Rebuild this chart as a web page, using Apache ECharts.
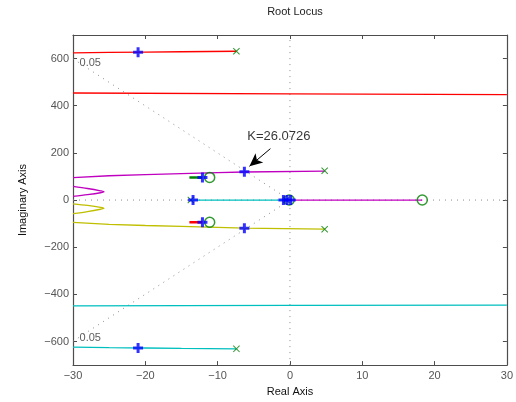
<!DOCTYPE html>
<html><head><meta charset="utf-8">
<script src="https://cdn.jsdelivr.net/npm/echarts@6/dist/echarts.min.js"></script>
<style>html,body{margin:0;padding:0;background:#fff}#c{width:516px;height:402px}</style>
</head><body><div id="c"></div>
<script>
// ---- data ----
const xTicks = [-30, -20, -10, 0, 10, 20, 30];
const yTicks = [-600, -400, -200, 0, 200, 400, 600];
const redTop = [[-30, 624], [-25, 626], [-20, 627.5], [-15, 629], [-7.4, 631]];
const redAsym = [[-30, 454], [0, 450], [30, 447]];
const magentaUpper = [[-30, 95], [-25, 103], [-20, 108], [-15, 112], [-10, 116], [-6.3, 119], [4.8, 123]];
const magentaWave = [[-30, 58], [-28, 49], [-26.2, 39], [-25.7, 35], [-26.2, 31], [-28, 23], [-30, 16]];
const magentaReal = [[-0.2, 0], [18.3, 0]];
const yellowLower = [[-30, -95], [-25, -103], [-20, -108], [-15, -112], [-10, -116], [-6.3, -119], [4.8, -123]];
const yellowWave = [[-30, -16], [-28, -23], [-26.2, -31], [-25.7, -35], [-26.2, -39], [-28, -49], [-30, -58]];
const cyanReal = [[-13.7, 0], [-0.4, 0]];
const cyanAsym = [[-30, -449], [0, -447], [30, -446]];
const cyanBottom = [[-30, -624], [-25, -626], [-20, -627.5], [-15, -629], [-7.4, -631]];
const greenShort = [[-13.9, 96], [-12.1, 96]];
const redShort = [[-13.9, -94], [-12.1, -94]];
const poles = [[-7.4, 631], [-7.4, -631], [4.8, 124], [4.8, -124], [-13.7, 0], [-0.5, 0]];
const zeros = [[-11.1, 96], [-11.1, -94], [18.3, 0], [-0.1, 0]];
const gainPoints = [[-21, 627], [-21, -627], [-6.3, 120], [-6.3, -120], [-13.4, 0], [-12.1, 96], [-12.1, -94], [-0.9, 0], [-0.4, 0], [0.1, 0]];
const dampUpper = [[0, 0], [-30, 599]];
const dampLower = [[0, 0], [-30, -599]];
const gridV = [[0, -700], [0, 700]];
const gridH = [[-30, 0], [30, 0]];
const dampLabels = [[-29.1, 581, '0.05'], [-29.1, -585, '0.05']];
const annotText = [[-5.9, 268, 'K=26.0726']];
const annotArrow = [[-2.7, 218], [-5.6, 143]];

const FONT = 'Liberation Sans, Arial, Helvetica, sans-serif';
const C = { r: '#ff0000', c: '#00bfbf', m: '#bf00bf', y: '#bfbf00', g: '#008000', b: '#0000ff' };
const plusPath = 'path://M3.5,0 H6.5 V3.5 H10 V6.5 H6.5 V10 H3.5 V6.5 H0 V3.5 H3.5 Z';
const xPath = 'path://M0,1 L1,0 L5,4 L9,0 L10,1 L6,5 L10,9 L9,10 L5,6 L1,10 L0,9 L4,5 Z';
const minus = v => String(v).replace('-', '\u2212');

function line(data, color, extra) {
  return Object.assign({ type: 'line', data: data, showSymbol: false, symbol: 'none', silent: true,
    lineStyle: { color: color, width: 1.3 }, z: 3, animation: false }, extra || {});
}
function dotted(data) {
  return line(data, '#8c8c8c', { lineStyle: { color: '#8c8c8c', width: 1, type: [1, 5] }, z: 1 });
}

const axisCommon = {
  axisLine: { show: true, onZero: false, lineStyle: { color: '#4d4d4d', width: 1.2 } },
  axisTick: { show: true, inside: true, length: 4, lineStyle: { color: '#4d4d4d' } },
  splitLine: { show: false },
  axisLabel: { color: '#555', fontSize: 11, fontFamily: FONT, formatter: minus }
};

const option = {
  animation: false,
  backgroundColor: '#fff',
  title: { text: 'Root Locus', left: 290, top: 1, textAlign: 'center',
    textStyle: { fontSize: 11, fontWeight: 'normal', color: '#222', fontFamily: FONT } },
  grid: { left: 73, right: 8, top: 35, bottom: 36 },
  xAxis: [
    Object.assign({}, axisCommon, { type: 'value', min: -30, max: 30, interval: 10, position: 'bottom',
      name: 'Real Axis', nameLocation: 'middle', nameGap: 18,
      nameTextStyle: { fontSize: 11, color: '#111', fontFamily: FONT },
      axisLabel: Object.assign({}, axisCommon.axisLabel, { margin: 5, customValues: xTicks }),
      axisTick: Object.assign({}, axisCommon.axisTick, { customValues: xTicks }) }),
    Object.assign({}, axisCommon, { type: 'value', min: -30, max: 30, interval: 10, position: 'top',
      axisLabel: { show: false }, axisTick: Object.assign({}, axisCommon.axisTick, { customValues: xTicks }) })
  ],
  yAxis: [
    Object.assign({}, axisCommon, { type: 'value', min: -700, max: 700, position: 'left',
      name: 'Imaginary Axis', nameLocation: 'middle', nameGap: 45,
      nameTextStyle: { fontSize: 11, color: '#111', fontFamily: FONT },
      axisLabel: Object.assign({}, axisCommon.axisLabel, { margin: 4, customValues: yTicks }),
      axisTick: Object.assign({}, axisCommon.axisTick, { customValues: yTicks }) }),
    Object.assign({}, axisCommon, { type: 'value', min: -700, max: 700, position: 'right',
      axisLabel: { show: false }, axisTick: Object.assign({}, axisCommon.axisTick, { customValues: yTicks }) })
  ],
  series: [
    dotted(gridV), dotted(gridH), dotted(dampUpper), dotted(dampLower),
    line(redTop, C.r), line(redAsym, C.r), line(redShort, C.r, { lineStyle: { color: C.r, width: 2.5 } }),
    line(magentaUpper, C.m), line(magentaWave, C.m, { smooth: 0.3 }), line(magentaReal, C.m),
    line(yellowLower, C.y), line(yellowWave, C.y, { smooth: 0.3 }),
    line(cyanReal, C.c), line(cyanAsym, C.c), line(cyanBottom, C.c),
    line(greenShort, C.g, { lineStyle: { color: C.g, width: 2.5 } }),
    { type: 'scatter', data: poles, symbol: xPath, symbolSize: 7, itemStyle: { color: C.g }, z: 5, silent: true },
    { type: 'scatter', data: zeros, symbol: 'circle', symbolSize: 10,
      itemStyle: { color: 'rgba(255,255,255,0)', borderColor: C.g, borderWidth: 1.5 }, z: 5, silent: true },
    { type: 'scatter', data: gainPoints, symbol: plusPath, symbolSize: 10, itemStyle: { color: C.b }, z: 6, silent: true },
    { type: 'scatter', data: dampLabels, symbolSize: 0, silent: true, z: 7,
      label: { show: true, position: 'right', distance: 0, formatter: p => p.data[2], fontSize: 11, color: '#333', fontFamily: FONT } },
    { type: 'scatter', data: annotText, symbolSize: 0, silent: true, z: 7,
      label: { show: true, position: 'right', distance: 0, formatter: p => p.data[2], fontSize: 13, color: '#000', fontFamily: FONT } },
    { type: 'line', data: [], silent: true, z: 7,
      markLine: { silent: true, symbol: ['none', 'arrow'], symbolSize: [9, 13], animation: false,
        lineStyle: { color: '#000', width: 1, type: 'solid' }, label: { show: false },
        data: [[{ coord: annotArrow[0] }, { coord: annotArrow[1] }]] } }
  ]
};
const chart = echarts.init(document.getElementById('c'), null, { renderer: 'canvas' });
chart.setOption(option);
</script></body></html>
